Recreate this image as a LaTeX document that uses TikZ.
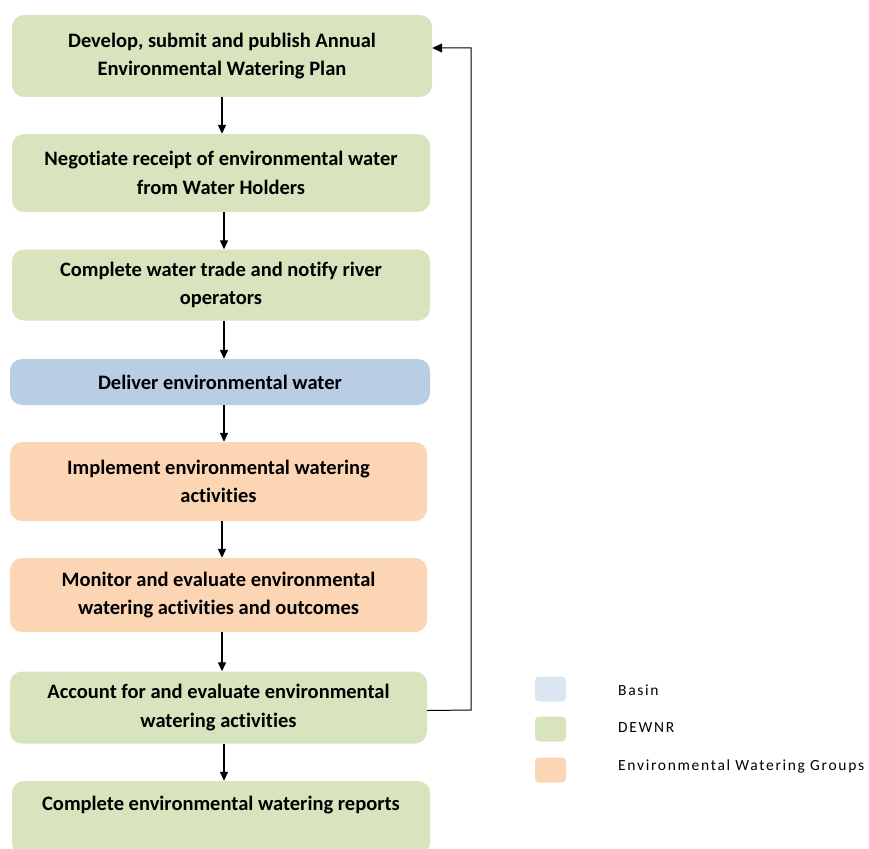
\documentclass[tikz,border=0pt]{standalone}
\usepackage{fontspec}
\setmainfont[Ligatures={CommonOff,ContextualOff,RareOff}]{Carlito}
\newfontfamily\legendfont[LetterSpace=11,Ligatures={CommonOff,ContextualOff,RareOff}]{Carlito}
\usetikzlibrary{arrows.meta}
\definecolor{dgreen}{HTML}{D7E4BD}
\definecolor{dblue}{HTML}{B9CDE5}
\definecolor{dorange}{HTML}{FCD5B5}
\definecolor{lblue}{HTML}{DCE6F2}
\tikzset{
  x=1pt,y=1pt,
  stepbox/.style={rounded corners=12pt, draw=none, align=center, inner sep=0pt,
    font=\fontsize{20.5}{28.5}\selectfont\bfseries},
  arr/.style={line width=1.3pt, -{Triangle[length=9pt,width=8pt]}},
  fb/.style={line width=1pt, -{Triangle[length=10pt,width=9pt]}},
  legbox/.style={rounded corners=4pt, draw=none, minimum width=31pt, minimum height=25pt, inner sep=0pt},
  legtext/.style={anchor=west, inner sep=0pt, font=\legendfont\fontsize{15.5}{18}\selectfont}
}
\begin{document}
\begin{tikzpicture}
\useasboundingbox (0,0) rectangle (869,-848);
\node[stepbox, fill=dgreen, minimum width=420pt, minimum height=82pt] (b1) at (222,-56) {Develop, submit and publish Annual\\Environmental Watering Plan};
\node[stepbox, fill=dgreen, minimum width=418pt, minimum height=78pt] (b2) at (221,-173) {Negotiate receipt of environmental water\\from Water Holders};
\node[stepbox, fill=dgreen, minimum width=418pt, minimum height=71pt] (b3) at (221,-285) {Complete water trade and notify river\\operators};
\node[stepbox, fill=dblue, minimum width=420pt, minimum height=46pt] (b4) at (220,-382) {Deliver environmental water};
\node[stepbox, fill=dorange, minimum width=417pt, minimum height=79pt] (b5) at (218.5,-481.5) {Implement environmental watering\\activities};
\node[stepbox, fill=dorange, minimum width=417pt, minimum height=74pt] (b6) at (218.5,-595) {Monitor and evaluate environmental\\watering activities and outcomes};
\node[stepbox, fill=dgreen, minimum width=417pt, minimum height=72pt] (b7) at (218.5,-707.5) {Account for and evaluate environmental\\watering activities};
\node[stepbox, fill=dgreen, minimum width=418pt, minimum height=74pt] (b8) at (221,-818) {Complete environmental watering reports\\\mbox{}};

\draw[arr] (b1.south) ++(0,0) coordinate (s1) -- (s1 |- b2.north);
\draw[arr] ([xshift=3pt]b2.south) coordinate (s2) -- (s2 |- b3.north);
\draw[arr] ([xshift=3pt]b3.south) coordinate (s3) -- (s3 |- b4.north);
\draw[arr] ([xshift=4pt]b4.south) coordinate (s4) -- (s4 |- b5.north);
\draw[arr] ([xshift=3.5pt]b5.south) coordinate (s5) -- (s5 |- b6.north);
\draw[arr] ([xshift=3.5pt]b6.south) coordinate (s6) -- (s6 |- b7.north);
\draw[arr] ([xshift=5.5pt]b7.south) coordinate (s7) -- (s7 |- b8.north);

\coordinate (fbr) at (471,-710);
\coordinate (fbt) at (471,-48);
\draw[fb] ([yshift=-3pt]b7.east) -- (fbr) -- (fbt) -- (fbt -| b1.east);

\node[legbox, fill=lblue] (l1) at (550.5,-689) {};
\node[legbox, fill=dgreen] (l2) at (550.5,-729) {};
\node[legbox, fill=dorange] (l3) at (550.5,-770) {};
\node[legtext] (t1) at (618,-690) {Basin};
\node[legtext] (t2) at (618,-728) {DEWNR};
\node[legtext] (t3) at (618,-766) {Environmental Watering Groups};
\end{tikzpicture}
\end{document}
